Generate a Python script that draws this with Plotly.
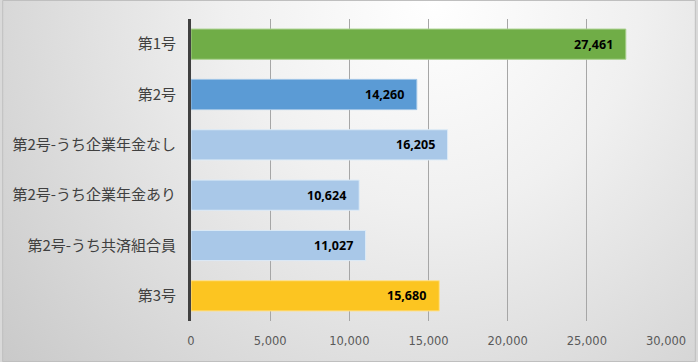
import base64
import plotly.graph_objects as go

categories = ["第1号", "第2号", "第2号-うち企業年金なし", "第2号-うち企業年金あり", "第2号-うち共済組合員", "第3号"]
values = [27461, 14260, 16205, 10624, 11027, 15680]
bar_colors = ["#70AD47", "#5B9BD5", "#A9C8E8", "#A9C8E8", "#A9C8E8", "#FCC521"]
edge_colors = ["#A8D08D", "#9DC3E6", "#DDEBF7", "#DDEBF7", "#DDEBF7", "#FFE08A"]
x_ticks = [0, 5000, 10000, 15000, 20000, 25000, 30000]

W, H = 698, 362
L, R, T, B = 190, 30, 19, 41
pw, ph = W - L - R, H - T - B

svg = f'''<svg xmlns="http://www.w3.org/2000/svg" width="{W}" height="{H}" viewBox="0 0 {W} {H}" preserveAspectRatio="none">
<defs><radialGradient id="g" cx="0.62" cy="0.0" r="0.85" gradientUnits="objectBoundingBox" gradientTransform="translate(0.62,0) scale(1,1.93) translate(-0.62,0)">
<stop offset="0" stop-color="#ffffff"/><stop offset="0.35" stop-color="#f0f0f0"/><stop offset="1" stop-color="#c6c6c6"/></radialGradient></defs>
<rect x="0" y="0" width="{W}" height="{H}" fill="url(#g)"/></svg>'''
src = "data:image/svg+xml;base64," + base64.b64encode(svg.encode()).decode()

fig = go.Figure()
fig.add_trace(go.Bar(
    y=categories, x=values, orientation="h",
    marker=dict(color=bar_colors, line=dict(color=edge_colors, width=1)),
    hoverinfo="x+y",
))

for c, v in zip(categories, values):
    fig.add_annotation(x=v, y=c, text=f"<b>{v:,}</b>", showarrow=False,
                       xanchor="right", xshift=-11,
                       font=dict(family="Noto Sans, sans-serif", size=12.5, color="#000000"))

fig.add_layout_image(dict(source=src, xref="paper", yref="paper",
                          x=-L / pw, y=1 + T / ph, sizex=W / pw, sizey=H / ph,
                          xanchor="left", yanchor="top", sizing="stretch", layer="below"))

fig.add_shape(type="rect", xref="paper", yref="paper",
              x0=-L / pw + 0.5 / pw, x1=1 + (R - 0.5) / pw,
              y0=-(B - 0.5) / ph, y1=1 + (T - 0.5) / ph,
              line=dict(color="#BFBFBF", width=1), fillcolor="rgba(0,0,0,0)", layer="above")

fig.update_layout(
    width=W, height=H,
    margin=dict(l=L, r=R, t=T, b=B, pad=0),
    paper_bgcolor="#d9d9d9", plot_bgcolor="rgba(0,0,0,0)",
    bargap=0.4, showlegend=False,
    font=dict(family="Noto Sans CJK JP, sans-serif"),
    xaxis=dict(range=[0, 30000], tickvals=x_ticks, ticktext=[f"{t:,}" for t in x_ticks],
               showgrid=True, gridcolor="#A6A6A6", gridwidth=1, zeroline=False,
               showline=False, ticks="outside", ticklen=9, tickcolor="rgba(0,0,0,0)",
               tickfont=dict(family="DejaVu Sans, sans-serif", size=11.5, color="#595959"),
               fixedrange=True),
    yaxis=dict(categoryorder="array", categoryarray=categories, autorange="reversed",
               showline=True, linecolor="#404040", linewidth=3, showgrid=False,
               ticks="outside", ticklen=9, tickcolor="rgba(0,0,0,0)",
               tickfont=dict(family="Noto Sans CJK JP, sans-serif", size=15, color="#404040"),
               fixedrange=True),
)

fig.write_html("out.html", config={"displayModeBar": False},
               post_script="document.body.style.margin='0';document.body.style.overflow='hidden';")
